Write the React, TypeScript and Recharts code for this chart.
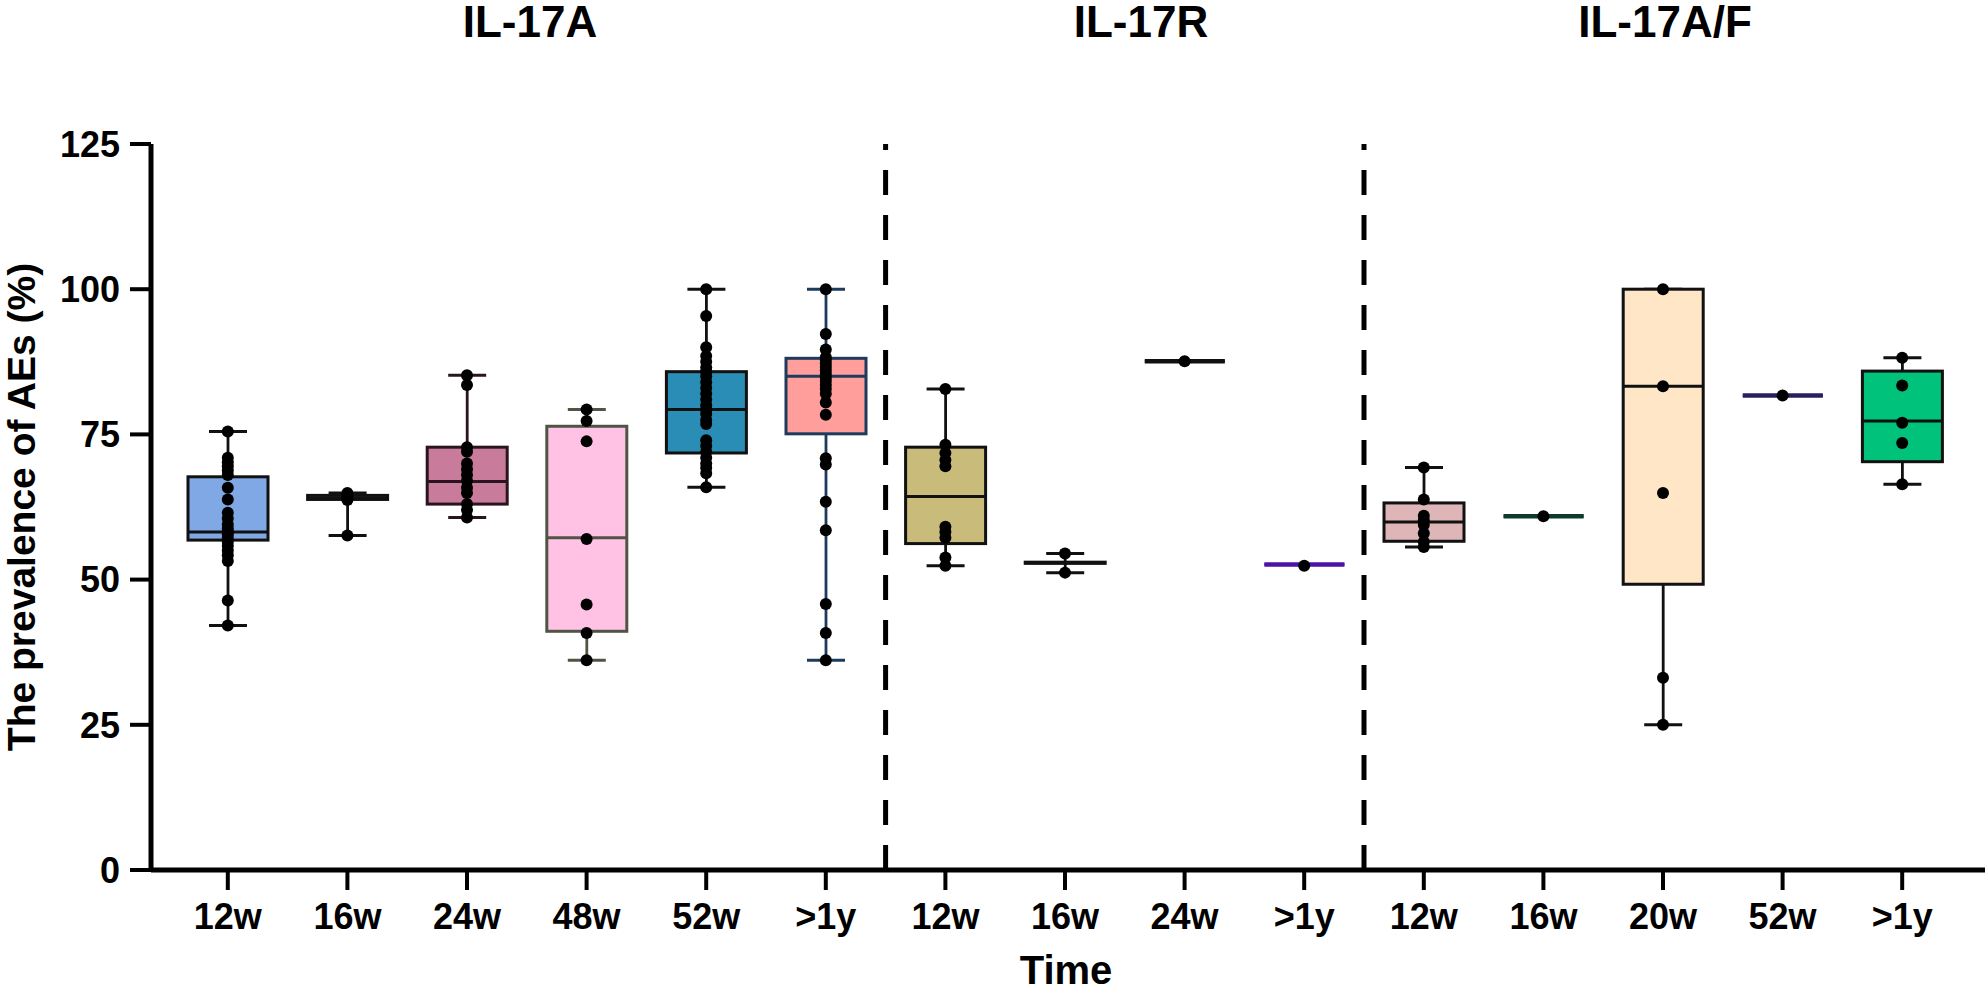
import React from "react"
import { ComposedChart, Bar, Scatter, XAxis, YAxis, ReferenceLine } from "recharts"

// categories in plot order (three drug classes)
const categories = [
  "A-12w", "A-16w", "A-24w", "A-48w", "A-52w", "A->1y",
  "R-12w", "R-16w", "R-24w", "R->1y",
  "F-12w", "F-16w", "F-20w", "F-52w", "F->1y",
]
const tickLabels = ["12w", "16w", "24w", "48w", "52w", ">1y", "12w", "16w", "24w", ">1y", "12w", "16w", "20w", "52w", ">1y"]
const groupTitles = ["IL-17A", "IL-17R", "IL-17A/F"]
const yTicks = [0, 25, 50, 75, 100, 125]

// box statistics
const minValues = [42.1, 57.6, 60.7, 36.1, 65.9, 36.1, 52.4, 51.2, 87.6, 52.6, 55.6, 60.9, 25.0, 81.7, 66.4]
const q1Values = [56.8, 63.8, 63.0, 41.1, 71.8, 75.1, 56.2, 52.8, 87.6, 52.6, 56.6, 60.9, 49.2, 81.7, 70.3]
const medianValues = [58.2, 64.1, 66.9, 57.2, 79.3, 85.0, 64.3, 52.9, 87.6, 52.6, 59.9, 60.9, 83.3, 81.7, 77.3]
const q3Values = [67.7, 64.5, 72.8, 76.4, 85.8, 88.1, 72.8, 53.0, 87.6, 52.6, 63.2, 60.9, 100, 81.7, 85.9]
const maxValues = [75.5, 64.9, 85.2, 79.3, 100, 100, 82.8, 54.5, 87.6, 52.6, 69.3, 60.9, 100, 81.7, 88.2]

// individual studies
const points: number[][] = [
  [75.5, 71, 70.2, 69.5, 68.8, 68, 65.8, 63.8, 61.5, 60.5, 59.5, 58.8, 58.3, 57.8, 57.2, 56.5, 55.8, 55, 54.2, 53.2, 46.4, 42.1],
  [64.9, 64.4, 64.0, 63.7, 57.6],
  [85.2, 83.5, 72.8, 72, 70, 69, 68, 67, 65.8, 64.9, 63, 62, 60.7],
  [79.3, 77.3, 73.8, 57.0, 45.7, 40.8, 36.1],
  [100, 95.4, 90, 88.5, 87.5, 86.5, 85.8, 85, 84, 83, 82, 81, 80, 79.3, 78.5, 77.5, 76.8, 74, 73, 72, 71, 70, 69.2, 68.3, 65.9],
  [100, 92.3, 89.6, 88.3, 87.8, 87.2, 86.6, 86, 85.4, 84.8, 84.2, 83.5, 82.8, 82, 80.5, 78.4, 70.9, 69.8, 63.4, 58.5, 45.8, 40.8, 36.1],
  [82.8, 73.2, 71.8, 70.6, 69.5, 59.1, 58.2, 57.2, 53.8, 52.4],
  [54.5, 51.2],
  [87.6],
  [52.4],
  [69.3, 63.8, 61.0, 60.2, 59.4, 58.0, 56.5, 55.6],
  [60.9],
  [100, 83.3, 64.9, 33.1, 25.0],
  [81.7],
  [88.2, 83.4, 77.0, 73.5, 66.4],
]

const fills = ["#80a8e4", "none", "#c87b9b", "#ffc2e5", "#2a8db5", "#ff9e9b", "#c9bc7b", "none", "none", "none", "#dfb6b8", "none", "#ffe6c7", "none", "#00c27a"]
const strokes = ["#111", "#111", "#2a1420", "#4f5545", "#111", "#1d3b5c", "#111", "#111", "#111", "#4a14a8", "#111", "#0e3b2c", "#111", "#2b1f5e", "#111"]
const titleX = [530, 1141, 1665]

const FONT = "'Liberation Sans', Arial, sans-serif"

const rows = categories.map((cat, i) => ({
  cat,
  i,
  whisker: [minValues[i], maxValues[i]],
  box: [q1Values[i], q3Values[i]],
  mid: [medianValues[i], medianValues[i]],
}))

const pointRows = categories.flatMap((cat, i) => points[i].map((v) => ({ cat, v })))

const WhiskerShape = (props: any) => {
  const { x, y, width, height, index } = props
  const i = props.payload?.i ?? index
  const cx = x + width / 2
  const top = Math.min(y, y + height)
  const bottom = Math.max(y, y + height)
  if (bottom - top < 0.5) return <g />
  const c = strokes[i]
  return (
    <g>
      <line x1={cx} x2={cx} y1={top} y2={bottom} stroke={c} strokeWidth={2.8} />
      <line x1={cx - 19} x2={cx + 19} y1={top} y2={top} stroke={c} strokeWidth={3} />
      <line x1={cx - 19} x2={cx + 19} y1={bottom} y2={bottom} stroke={c} strokeWidth={3} />
    </g>
  )
}

const BoxShape = (props: any) => {
  const { x, y, width, height, index } = props
  const i = props.payload?.i ?? index
  const top = Math.min(y, y + height)
  const h = Math.abs(height)
  if (h < 1) {
    return <line x1={x} x2={x + width} y1={top} y2={top} stroke={strokes[i]} strokeWidth={4.5} />
  }
  return <rect x={x} y={top} width={width} height={h} fill={fills[i]} stroke={strokes[i]} strokeWidth={3} />
}

const MedianShape = (props: any) => {
  const { x, y, width, index } = props
  const i = props.payload?.i ?? index
  return <line x1={x} x2={x + width} y1={y} y2={y} stroke={strokes[i]} strokeWidth={3} />
}

const DotShape = (props: any) => <circle cx={props.cx} cy={props.cy} r={6} fill="#000" />

export default function App() {
  return (
    <div style={{ position: "absolute", left: 0, top: 0, width: 1987, height: 994, background: "#fff", fontFamily: FONT }}>
      {groupTitles.map((t, k) => (
        <div
          key={t}
          style={{
            position: "absolute",
            left: titleX[k] - 150,
            width: 300,
            top: 0,
            textAlign: "center",
            fontSize: 44,
            fontWeight: "bold",
            lineHeight: "44px",
            color: "#000",
          }}
        >
          {t}
        </div>
      ))}
      <ComposedChart width={1987} height={994} data={rows} margin={{ top: 144, right: 2, left: 0, bottom: 0 }} barGap={-80}>
        <XAxis
          dataKey="cat"
          type="category"
          allowDuplicatedCategory={false}
          interval={0}
          padding={{ left: 17, right: 23 }}
          height={124}
          tickFormatter={(v: string) => tickLabels[categories.indexOf(v)]}
          tick={{ fontSize: 36, fontWeight: "bold", fill: "#000", fontFamily: FONT }}
          tickSize={20}
          tickMargin={13}
          axisLine={{ stroke: "#000", strokeWidth: 5 }}
          tickLine={{ stroke: "#000", strokeWidth: 4 }}
          label={{
            content: (p: any) => (
              <text x={p.viewBox.x + p.viewBox.width / 2 - 2} y={p.viewBox.y + 114} textAnchor="middle" fontSize={40} fontWeight="bold" fontFamily={FONT} fill="#000">
                Time
              </text>
            ),
          }}
        />
        <YAxis
          type="number"
          domain={[0, 125]}
          ticks={yTicks}
          width={151}
          tickSize={21}
          tickMargin={10}
          tick={{ fontSize: 36, fontWeight: "bold", fill: "#000", fontFamily: FONT }}
          axisLine={{ stroke: "#000", strokeWidth: 5 }}
          tickLine={{ stroke: "#000", strokeWidth: 4 }}
          label={{
            content: (p: any) => {
              const cy = p.viewBox.y + p.viewBox.height / 2
              return (
                <text x={35} y={cy} transform={`rotate(-90 35 ${cy})`} textAnchor="middle" fontSize={39} fontWeight="bold" fontFamily={FONT} fill="#000">
                  The prevalence of AEs (%)
                </text>
              )
            },
          }}
        />
        <ReferenceLine x="A->1y" position="end" stroke="#000" strokeWidth={5} strokeDasharray="25 20" />
        <ReferenceLine x="R->1y" position="end" stroke="#000" strokeWidth={5} strokeDasharray="25 20" />
        <Bar dataKey="whisker" barSize={80} shape={WhiskerShape} isAnimationActive={false} />
        <Bar dataKey="box" barSize={80} shape={BoxShape} isAnimationActive={false} />
        <Bar dataKey="mid" barSize={80} shape={MedianShape} isAnimationActive={false} />
        <Scatter data={pointRows} dataKey="v" shape={DotShape} isAnimationActive={false} />
      </ComposedChart>
    </div>
  )
}
